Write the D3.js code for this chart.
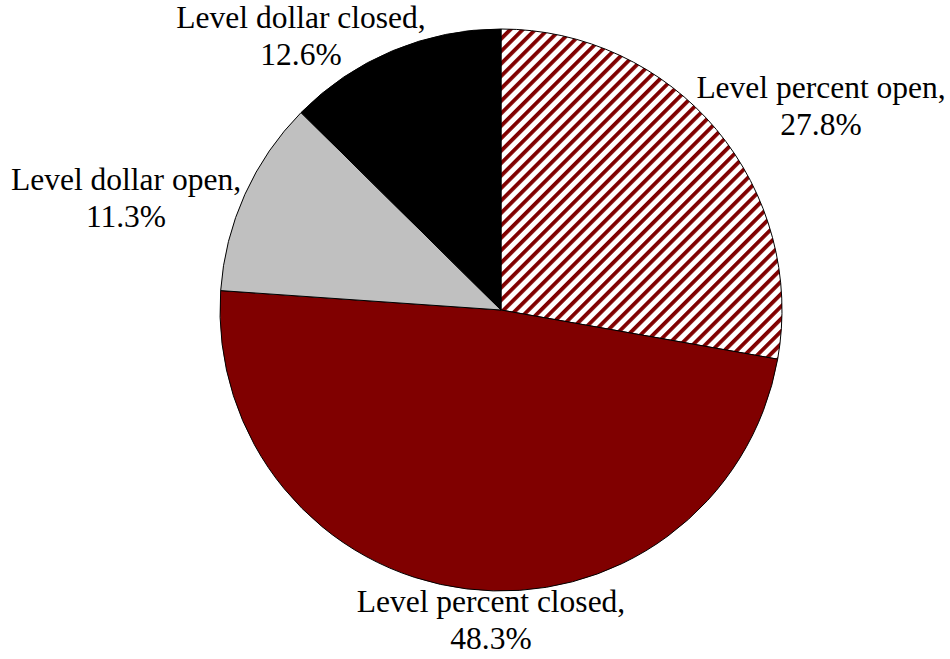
<!DOCTYPE html>
<html>
<head>
<meta charset="utf-8">
<script src="https://cdn.jsdelivr.net/npm/d3@7"></script>
<style>
  html, body { margin: 0; padding: 0; background: #fff; }
  svg { display: block; }
  .lbl, .lbl tspan { font-family: "Liberation Serif", "Times New Roman", serif; font-size: 31.5px; fill: #000; }
</style>
</head>
<body>
<svg id="chart" width="950" height="659"></svg>
<script>
// Share of plans by amortization method
const categories = ["Level percent open", "Level percent closed", "Level dollar open", "Level dollar closed"];
const shares = [27.8, 48.3, 11.3, 12.6];
const fills = ["hatch", "#800000", "#C0C0C0", "#000000"];

// Label anchors relative to the pie centre (two-line labels, centred)
const labelOffsets = [[320, -212], [-10, 302], [-375, -120], [-200, -282]];

const width = 950, height = 659;
const cx = 501, cy = 310, radius = 281;
const lineGap = 37;

const svg = d3.select("#chart");

// Diagonal dark-red hatch
const defs = svg.append("defs");
const period = 8.8;
const pat = defs.append("pattern")
  .attr("id", "hatch")
  .attr("patternUnits", "userSpaceOnUse")
  .attr("width", period)
  .attr("height", period)
  .attr("patternTransform", "rotate(45)");
pat.append("rect").attr("width", period).attr("height", period).attr("fill", "#fff");
pat.append("rect").attr("width", 3.8).attr("height", period).attr("fill", "#800000");

const pie = d3.pie().sort(null).value(d => d.value);
const data = categories.map((c, i) => ({ name: c, value: shares[i], fill: fills[i], off: labelOffsets[i] }));
const arcs = pie(data);

const arc = d3.arc().innerRadius(0).outerRadius(radius);

const g = svg.append("g").attr("transform", `translate(${cx},${cy})`);

g.selectAll("path.slice")
  .data(arcs)
  .join("path")
  .attr("class", "slice")
  .attr("d", arc)
  .attr("fill", d => d.data.fill === "hatch" ? "url(#hatch)" : d.data.fill)
  .attr("stroke", "#000")
  .attr("stroke-width", 1)
  .attr("stroke-linejoin", "round");

const labels = g.selectAll("text.lbl")
  .data(arcs)
  .join("text")
  .attr("class", "lbl")
  .attr("text-anchor", "middle")
  .attr("transform", d => `translate(${d.data.off[0]},${d.data.off[1]})`);

labels.append("tspan")
  .attr("x", 0)
  .attr("y", 0)
  .style("font-family", "'Liberation Serif', serif")
  .text(d => d.data.name + ",");
labels.append("tspan")
  .attr("x", 0)
  .attr("y", lineGap)
  .style("font-family", "'Liberation Serif', serif")
  .text(d => d3.format(".1f")(d.data.value) + "%");
</script>
</body>
</html>
